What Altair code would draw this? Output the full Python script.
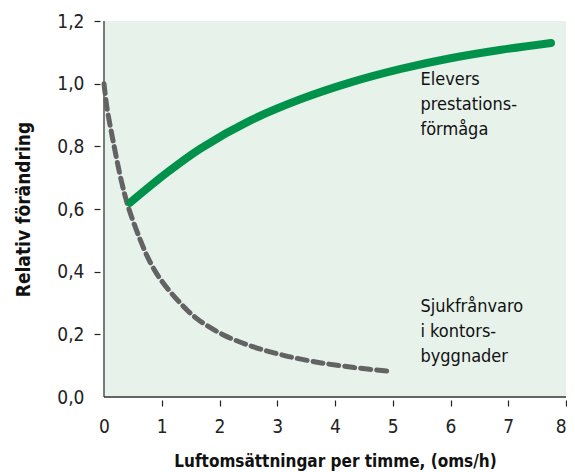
import altair as alt
import pandas as pd

# Elevers prestationsförmåga (green solid)
perf_x = [0.45, 1.09, 1.67, 2.53, 3.4, 4.27, 5.14, 6.0, 6.88, 7.74]
perf_y = [0.62, 0.716, 0.793, 0.882, 0.950, 1.004, 1.047, 1.081, 1.108, 1.13]

# Sjukfrånvaro i kontorsbyggnader (grey dashed)
sick_x = [0.0, 0.05, 0.16, 0.3, 0.42, 0.62, 0.8, 1.0, 1.32, 1.61, 2.07, 2.59, 3.11, 3.69, 4.33, 4.99]
sick_y = [1.0, 0.925, 0.815, 0.69, 0.607, 0.505, 0.43, 0.37, 0.30, 0.25, 0.198, 0.16, 0.133, 0.111, 0.094, 0.081]

label_text = ["Elevers\nprestations-\nförmåga", "Sjukfrånvaro\ni kontors-\nbyggnader"]
label_x = [5.48, 5.48]
label_y = [1.04, 0.315]

FONT = "DejaVu Sans Condensed, Liberation Sans, sans-serif"

perf = pd.DataFrame({"x": perf_x, "y": perf_y})
sick = pd.DataFrame({"x": sick_x, "y": sick_y})
labels = pd.DataFrame({"x": label_x, "y": label_y, "t": label_text})

xscale = alt.Scale(domain=[0, 8], nice=False)
yscale = alt.Scale(domain=[0, 1.2], nice=False)

no_zero_tick = {"condition": {"test": "datum.value == 0", "value": 0}, "value": 1}
last_right = {"condition": {"test": "datum.value == 8", "value": "right"}, "value": "center"}

xaxis = alt.Axis(
    values=[0, 1, 2, 3, 4, 5, 6, 7, 8], format="d", labelFlush=False,
    labelAlign=last_right,
    domain=False, grid=False, offset=3,
    tickSize=6, tickColor="#222", tickWidth=1.2, tickOpacity=no_zero_tick,
    labelFont=FONT, labelFontSize=19, labelColor="#222", labelPadding=11,
    title="Luftomsättningar per timme, (oms/h)", titleFont=FONT, titleFontSize=17,
    titleFontWeight="bold", titleColor="#111", titlePadding=17,
)
yaxis = alt.Axis(
    values=[0, 0.2, 0.4, 0.6, 0.8, 1.0, 1.2], domain=False, grid=False, offset=4,
    labelFlush=False,
    tickSize=6, tickColor="#222", tickWidth=1.2, tickOpacity=no_zero_tick,
    labelExpr="replace(format(datum.value, '.1f'), '.', ',')",
    labelFont=FONT, labelFontSize=19, labelColor="#222", labelPadding=10,
    title="Relativ förändring", titleFont=FONT, titleFontSize=19,
    titleFontWeight="bold", titleColor="#111", titlePadding=23,
)

bg_left = alt.Chart(pd.DataFrame({"x": [0]})).mark_rule(color="#7a7a7a", strokeWidth=2).encode(
    x=alt.X("x:Q", scale=xscale, axis=xaxis)
)
bg_bottom = alt.Chart(pd.DataFrame({"y": [0]})).mark_rule(color="#333", strokeWidth=1.3).encode(
    y=alt.Y("y:Q", scale=yscale, axis=yaxis)
)

sick_line = alt.Chart(sick).mark_line(
    color="#636363", strokeWidth=5, strokeDash=[10, 6], strokeCap="round", interpolate="catmull-rom"
).encode(x=alt.X("x:Q", scale=xscale), y=alt.Y("y:Q", scale=yscale))

perf_line = alt.Chart(perf).mark_line(
    color="#00924a", strokeWidth=8, strokeCap="round", interpolate="catmull-rom"
).encode(x=alt.X("x:Q", scale=xscale), y=alt.Y("y:Q", scale=yscale))

text = alt.Chart(labels).mark_text(
    align="left", baseline="top", font=FONT, fontSize=18, lineBreak="\n", lineHeight=25, color="#111"
).encode(x=alt.X("x:Q", scale=xscale), y=alt.Y("y:Q", scale=yscale), text="t:N")

chart = alt.layer(bg_left, bg_bottom, sick_line, perf_line, text).properties(
    width=462, height=376,
    autosize=alt.AutoSizeParams(type="none"),
    padding={"left": 96, "top": 13, "right": 1, "bottom": 75},
).configure_view(fill="#e7f2eb", stroke=None)

chart.save("out.html", embed_options={"renderer": "svg", "actions": False})
